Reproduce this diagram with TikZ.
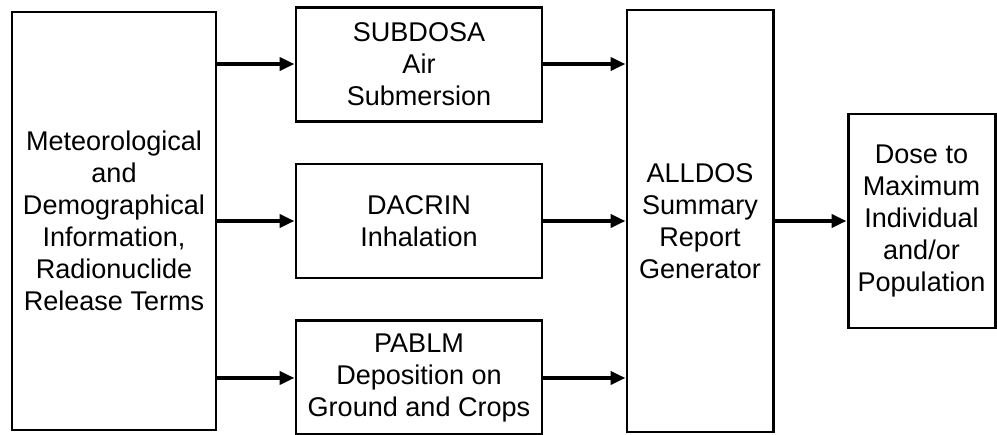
\documentclass[tikz,border=0pt]{standalone}
\usepackage{fontspec}
\setmainfont{Liberation Sans}
\usetikzlibrary{arrows.meta,positioning}

\tikzset{
  block/.style={draw, line width=1.7pt, align=center, inner sep=2pt,
    font=\fontsize{15.4}{18.2}\selectfont},
  flow/.style={line width=2.2pt, -{Triangle[length=3mm,width=2.6mm]}}
}

\begin{document}
\begin{tikzpicture}

  \useasboundingbox (0,0) rectangle (19.94,8.68);

  % Input data
  \def\midy{4.26}
  \node[block, minimum width=4.08cm, minimum height=8.36cm] (input) at (2.28,\midy)
    {Meteorological\\and\\Demographical\\Information,\\Radionuclide\\Release Terms};

  % Dose codes
  \def\codex{8.38}\def\codew{4.92cm}\def\codeh{2.28cm}
  \node[block, minimum width=\codew, minimum height=\codeh] (dacrin) at (\codex,\midy)
    {DACRIN\\Inhalation};
  \node[block, minimum width=\codew, minimum height=\codeh, above=0.8cm of dacrin] (subdosa)
    {SUBDOSA\\Air\\Submersion};
  \node[block, minimum width=\codew, minimum height=\codeh, below=0.8cm of dacrin] (pablm)
    {PABLM\\Deposition on\\Ground and Crops};

  % Summary and result
  \node[block, minimum width=2.92cm, minimum height=8.44cm] (alldos) at (14.0,\midy)
    {ALLDOS\\Summary\\Report\\Generator};
  \node[block, minimum width=2.94cm, minimum height=4.28cm] (dose) at (18.43,\midy)
    {Dose to\\Maximum\\Individual\\and/or\\Population};

  % Flow
  \foreach \code in {subdosa,dacrin,pablm} {
    \draw[flow] (input.east |- \code.west) -- (\code.west);
    \draw[flow] (\code.east) -- (\code.east -| alldos.west);
  }
  \draw[flow] (alldos.east |- dose.west) -- (dose.west);

\end{tikzpicture}
\end{document}
